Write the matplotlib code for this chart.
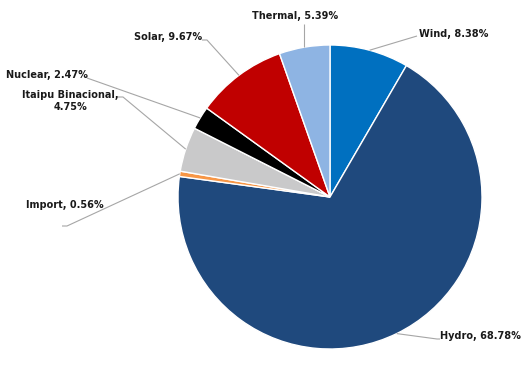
import numpy as np
import matplotlib
matplotlib.use("Agg")
import matplotlib.pyplot as plt

# data (clockwise from 12 o'clock)
categories = ["Wind", "Hydro", "Import", "Itaipu Binacional", "Nuclear", "Solar", "Thermal"]
values = [8.38, 68.78, 0.56, 4.75, 2.47, 9.67, 5.39]
labels = ["Wind, 8.38%", "Hydro, 68.78%", "Import, 0.56%", "Itaipu Binacional,\n4.75%",
          "Nuclear, 2.47%", "Solar, 9.67%", "Thermal, 5.39%"]
colors = ["#0070C0", "#1F497D", "#F79646", "#C9C9CA", "#000000", "#C00000", "#8EB4E3"]

W, H = 521, 378
fig = plt.figure(figsize=(W / 100, H / 100), dpi=100)
ax = fig.add_axes([0, 0, 1, 1])

cx, cy, R = 330, H - 197, 152
wedges, _ = ax.pie(values, colors=colors, startangle=90, counterclock=False,
                   center=(cx, cy), radius=R, frame=True,
                   wedgeprops=dict(edgecolor="white", linewidth=1.0))
ax.set_xlim(0, W)
ax.set_ylim(0, H)
ax.set_aspect("equal")
ax.axis("off")

# label layout: (text x, text y (pixel from top), ha, leader bend point)
layout = {
    "Wind": (419, 34, "left", (417, 36)),
    "Hydro": (440, 336, "left", (437, 339)),
    "Import": (26, 205, "left", (67, 226)),
    "Itaipu Binacional": (70, 101, "center", (123, 97)),
    "Nuclear": (6, 75, "left", (87, 78)),
    "Solar": (202, 37, "right", (207, 40)),
    "Thermal": (295, 16, "center", None),
}
extra_start = {"Import": (62, 226), "Itaipu Binacional": (118, 97), "Solar": (202, 40),
               "Hydro": (440, 339)}

for w, cat, lab in zip(wedges, categories, labels):
    ang = np.deg2rad((w.theta1 + w.theta2) / 2)
    px, py = cx + R * np.cos(ang), cy + R * np.sin(ang)
    tx, ty, ha, bend = layout[cat]
    ax.text(tx, H - ty, lab, ha=ha, va="center", fontsize=7.0, fontweight="bold",
            family="DejaVu Sans", color="#1a1a1a", multialignment="center", linespacing=1.15)
    if bend is None:
        xs, ys = [px, px], [py, H - 24]
    else:
        xs, ys = [px, bend[0]], [py, H - bend[1]]
        if cat in extra_start:
            xs.append(extra_start[cat][0]); ys.append(H - extra_start[cat][1])
    ax.plot(xs, ys, color="#A6A6A6", linewidth=0.8, solid_capstyle="butt")

fig.savefig("out.png", dpi=100)
